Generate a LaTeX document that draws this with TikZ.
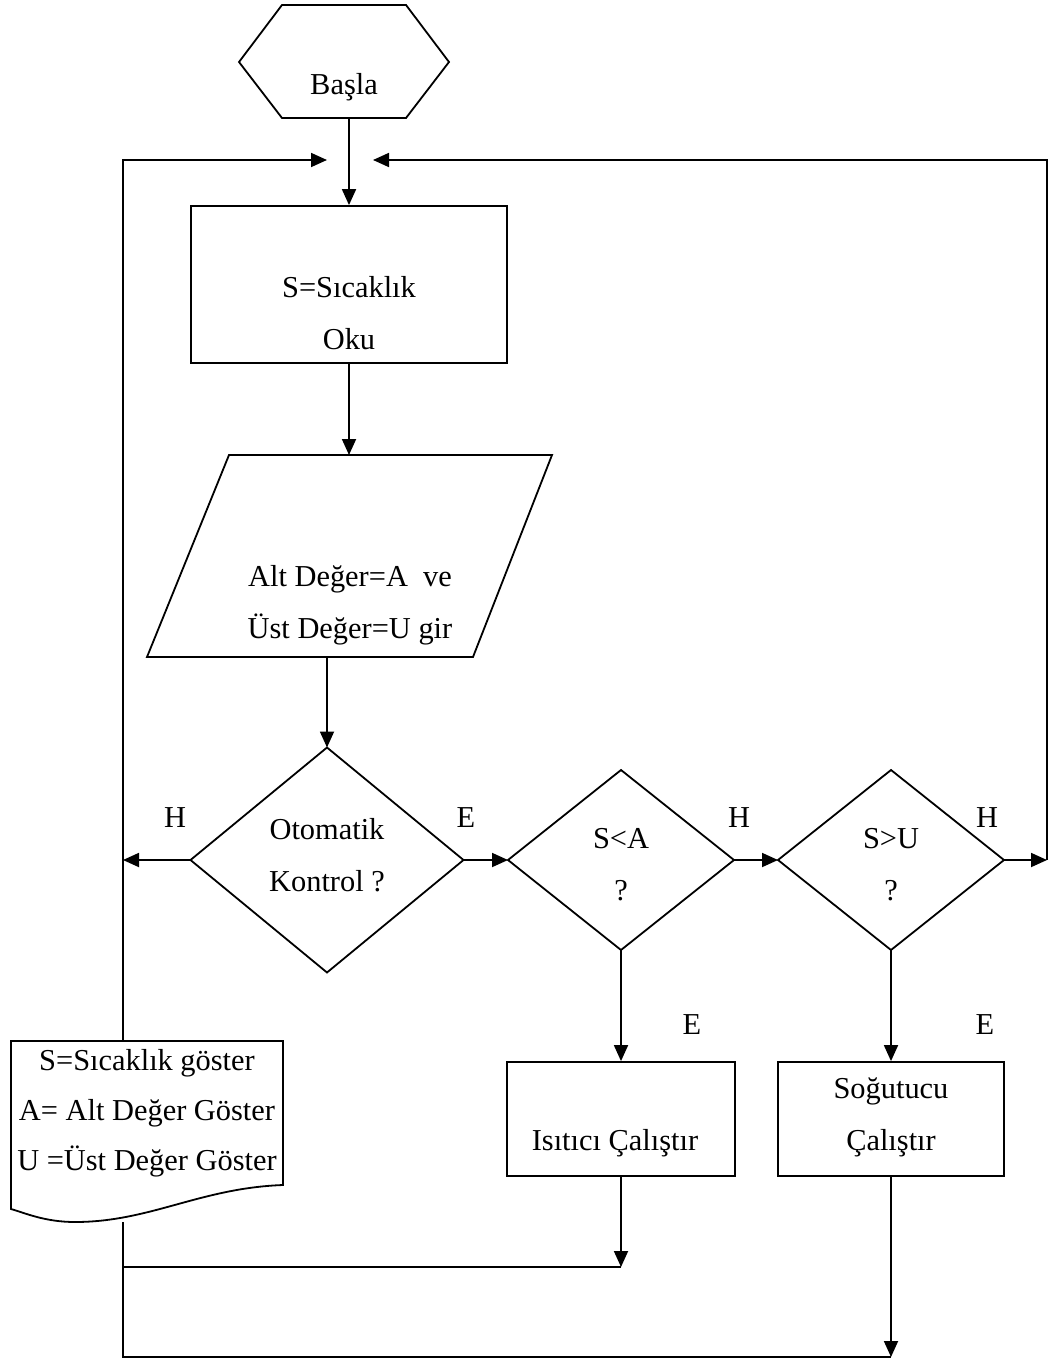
\documentclass[tikz,border=0pt]{standalone}
\usepackage{fontspec}
\setmainfont{Liberation Serif}
\usetikzlibrary{arrows.meta,shapes.geometric}
\begin{document}
\begin{tikzpicture}[x=0.5pt,y=-0.5pt,
  line width=0.9pt,
  txt/.style={font=\fontsize{15.2}{26}\selectfont, align=center, inner sep=0pt},
  box/.style={draw, rectangle, inner sep=0pt},
  dia/.style={draw, diamond, inner sep=0pt, outer sep=0pt},
  arr/.style={-{Triangle[length=8pt,width=7pt]}}]
\useasboundingbox (0,0) rectangle (1049,1359);

% start terminal (hexagon)
\draw (239,62) -- (282,5) -- (406,5) -- (449,62) -- (406,118) -- (282,118) -- cycle;
\coordinate (hexbot) at (349,118);
\node[txt] (basla) at (344,87) {Başla};

% read temperature
\node[box, minimum width=158pt, minimum height=78.5pt] (oku) at (349,284.5) {};
\node[txt] (okutxt) at (349,313) {S=Sıcaklık\\Oku};

% input limits (parallelogram)
\draw (229,455) -- (552,455) -- (473,657) -- (147,657) -- cycle;
\coordinate (partop) at (349,455);
\coordinate (parbot) at (327,657);
\node[txt] (partxt) at (350,605) {Alt Değer=A\ \ ve\\Üst Değer=U gir};

% decisions
\node[dia, minimum width=136.5pt, minimum height=112.5pt] (d1) at (327,860) {};
\node[txt] (d1txt) at (327,855) {Otomatik\\Kontrol ?};
\node[dia, minimum width=113pt, minimum height=90pt] (d2) at (621,860) {};
\node[txt] (d2txt) at (621,865) {S<A\\?};
\node[dia, minimum width=113pt, minimum height=90pt] (d3) at (891,860) {};
\node[txt] (d3txt) at (891,865) {S>U\\?};

% actions
\node[box, minimum width=114pt, minimum height=57pt] (isi) at (621,1119) {};
\node[txt] (isitxt) at (615,1143) {Isıtıcı Çalıştır};
\node[box, minimum width=113pt, minimum height=57pt] (sog) at (891,1119) {};
\node[txt] (sogtxt) at (891,1117.5) {Soğutucu\\Çalıştır};

% display (document shape)
\draw (11,1041) -- (283,1041) -- (283,1185)
  .. controls (200,1188) and (150,1222) .. (75,1222)
  .. controls (45,1222) and (25,1213) .. (11,1209) -- cycle;
\node[txt, font=\fontsize{15.2}{25}\selectfont] (doctxt) at (147,1113)
  {S=Sıcaklık göster\\A= Alt Değer Göster\\U =Üst Değer Göster};

% helper points for the loop lines
\coordinate (doctop) at (123,1041);
\coordinate (docbot) at (123,1222);
\coordinate (ltip) at (327,160);
\coordinate (rtip) at (373,160);
\coordinate (rcorner) at (1047,860);
\coordinate (lhit) at (123,860);
\coordinate (isijoin) at (621,1267);
\coordinate (leftjoin) at (123,1267);
\coordinate (sogjoin) at (891,1357);

% connectors
\draw[arr] (hexbot) -- (oku.north);
\draw[arr] (oku.south) -- (partop);
\draw[arr] (parbot) -- (d1.north);
\draw[arr] (d1.west) -- (lhit);
\draw[arr] (d1.east) -- (d2.west);
\draw[arr] (d2.east) -- (d3.west);
\draw[arr] (d3.east) -- (rcorner);
\draw[arr] (d2.south) -- (isi.north);
\draw[arr] (d3.south) -- (sog.north);
\draw[arr] (doctop) |- (ltip);
\draw[arr] (rcorner) |- (rtip);
\draw[arr] (isi.south) -- (isijoin);
\draw (isijoin) -- (leftjoin);
\draw[arr] (sog.south) -- (sogjoin);
\draw (docbot) |- (sogjoin);

% branch labels
\node[txt] (h1) at (175,818) {H};
\node[txt] (e1) at (466,818) {E};
\node[txt] (h2) at (739,818) {H};
\node[txt] (h3) at (987,818) {H};
\node[txt] (e2) at (692,1025) {E};
\node[txt] (e3) at (985,1025) {E};
\end{tikzpicture}
\end{document}
